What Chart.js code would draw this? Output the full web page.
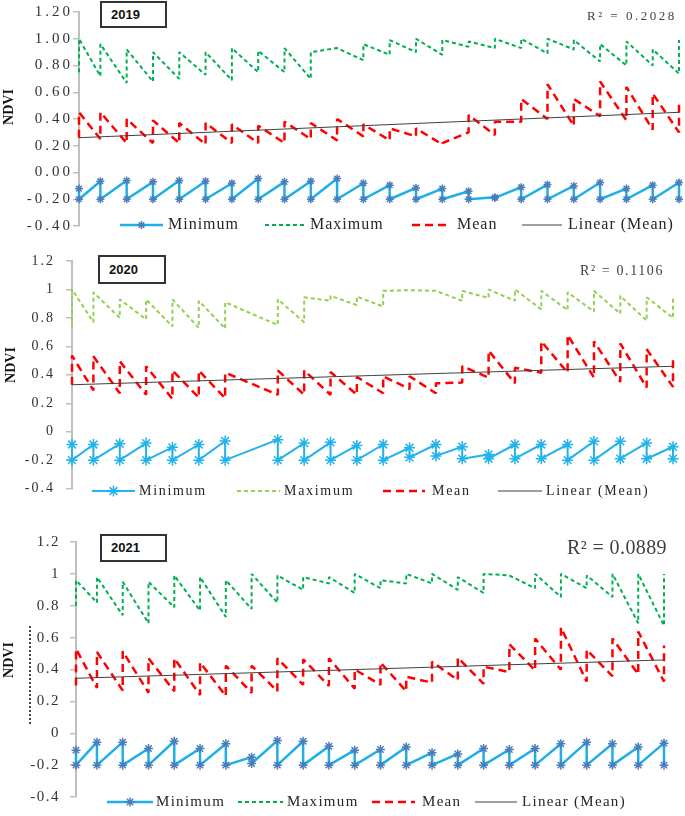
<!DOCTYPE html>
<html lang="en">
<head>
<meta charset="UTF-8">
<title>NDVI 2019-2021</title>
<script src="https://cdn.jsdelivr.net/npm/chart.js@4.4.1/dist/chart.umd.min.js"></script>
<style>
  body { margin: 0; background: #fff; }
  #page { position: relative; width: 685px; height: 816px; overflow: hidden; }
  canvas { position: absolute; left: 0; }
  .year { position: absolute; box-sizing: border-box; border: 2px solid #333; background: #fff;
          font: bold 13px 'Liberation Sans', Arial, sans-serif; color: #111; padding-left: 9px; }
  .r2 { position: absolute; font-family: 'Liberation Serif', serif; color: #404040; white-space: nowrap; }
  .ndvi { position: absolute; width: 50px; height: 18px; line-height: 18px; text-align: center;
          font: bold 14px 'Liberation Serif', serif; color: #111; transform: rotate(-90deg); }
</style>
</head>
<body>
<div id="page">
  <canvas id="c2019" width="685" height="236" style="top:0"></canvas>
  <canvas id="c2020" width="685" height="272" style="top:236px"></canvas>
  <canvas id="c2021" width="685" height="308" style="top:508px"></canvas>

  <div class="year" style="left:100px;top:1px;width:67px;height:27px;line-height:23px">2019</div>
  <div class="year" style="left:98px;top:255px;width:68px;height:29px;line-height:25px">2020</div>
  <div class="year" style="left:100px;top:534px;width:67px;height:28px;line-height:24px">2021</div>

  <div class="r2" style="left:587px;top:8px;font-size:13px;line-height:16px;letter-spacing:2.5px">R² = 0.2028</div>
  <div class="r2" style="left:580px;top:262px;font-size:14px;line-height:18px;letter-spacing:1.6px">R² = 0.1106</div>
  <div class="r2" style="left:567px;top:535px;font-size:20px;line-height:24px;letter-spacing:0.4px">R² = 0.0889</div>

  <div class="ndvi" style="left:-15px;top:98px">NDVI</div>
  <div class="ndvi" style="left:-13px;top:356px">NDVI</div>
  <div class="ndvi" style="left:-15px;top:651px">NDVI</div>
  <div style="position:absolute;left:29px;top:626px;height:98px;border-left:2px dotted #444"></div>
</div>

<script>
  // x positions of the 16-day composites (day of year)
  var days = [0, 13, 29, 45, 61, 77, 93, 109, 125, 141, 157, 173, 189, 205, 221, 237, 253, 269, 285, 301, 317, 333, 349, 365]
  var days2020 = [0, 13, 29, 45, 61, 77, 93, 125, 141, 157, 173, 189, 205, 221, 237, 253, 269, 285, 301, 317, 333, 349, 365]

  // each composite has a value where the line arrives and one where it leaves
  var max2019In = [0.75, 0.72, 0.67, 0.68, 0.70, 0.73, 0.69, 0.75, 0.75, 0.70, 0.93, 0.84, 0.88, 0.90, 0.88, 0.94, 0.93, 0.93, 0.89, 0.92, 0.83, 0.80, 0.80, 0.74]
  var max2019Out = [1.00, 0.96, 0.92, 0.90, 0.90, 0.90, 0.93, 0.91, 0.93, 0.90, 0.93, 0.96, 0.99, 1.00, 0.99, 0.98, 1.00, 1.00, 1.00, 0.99, 0.96, 0.98, 0.92, 0.99]
  var mean2019In = [0.26, 0.25, 0.22, 0.22, 0.22, 0.21, 0.22, 0.22, 0.22, 0.25, 0.24, 0.27, 0.24, 0.27, 0.21, 0.30, 0.28, 0.38, 0.40, 0.35, 0.42, 0.39, 0.32, 0.30]
  var mean2019Out = [0.45, 0.45, 0.40, 0.39, 0.37, 0.37, 0.36, 0.35, 0.38, 0.37, 0.40, 0.36, 0.33, 0.33, 0.22, 0.43, 0.38, 0.55, 0.66, 0.55, 0.68, 0.64, 0.59, 0.54]
  var min2019In = [-0.12, -0.065, -0.06, -0.07, -0.06, -0.065, -0.08, -0.045, -0.07, -0.065, -0.045, -0.08, -0.095, -0.115, -0.12, -0.14, -0.185, -0.11, -0.09, -0.10, -0.075, -0.12, -0.095, -0.075]
  var min2019Out = [-0.20, -0.20, -0.20, -0.20, -0.20, -0.20, -0.20, -0.20, -0.20, -0.20, -0.20, -0.20, -0.20, -0.20, -0.20, -0.20, -0.19, -0.20, -0.20, -0.20, -0.20, -0.20, -0.20, -0.20]
  var trend2019 = [0.26, 0.45]

  var max2020In = [0.73, 0.77, 0.80, 0.79, 0.74, 0.73, 0.725, 0.75, 0.77, 0.92, 0.89, 0.88, 0.995, 0.99, 0.92, 0.94, 0.92, 0.86, 0.855, 0.845, 0.83, 0.78, 0.80]
  var max2020Out = [1.00, 0.98, 0.93, 0.93, 0.93, 0.92, 0.91, 0.93, 0.945, 0.955, 0.95, 0.99, 0.995, 0.99, 0.99, 1.00, 1.00, 0.99, 0.98, 0.99, 0.955, 0.945, 0.955]
  var mean2020In = [0.33, 0.29, 0.27, 0.26, 0.23, 0.24, 0.235, 0.26, 0.26, 0.26, 0.26, 0.27, 0.30, 0.27, 0.345, 0.38, 0.34, 0.415, 0.415, 0.38, 0.35, 0.31, 0.315]
  var mean2020Out = [0.535, 0.53, 0.495, 0.46, 0.43, 0.43, 0.415, 0.43, 0.43, 0.42, 0.385, 0.39, 0.39, 0.34, 0.46, 0.57, 0.45, 0.635, 0.68, 0.635, 0.62, 0.58, 0.52]
  var min2020In = [-0.09, -0.09, -0.085, -0.08, -0.11, -0.09, -0.065, -0.056, -0.08, -0.075, -0.097, -0.09, -0.113, -0.09, -0.106, -0.16, -0.09, -0.09, -0.09, -0.068, -0.068, -0.079, -0.106]
  var min2020Out = [-0.20, -0.20, -0.20, -0.20, -0.20, -0.20, -0.20, -0.20, -0.20, -0.20, -0.20, -0.20, -0.18, -0.17, -0.19, -0.19, -0.19, -0.19, -0.20, -0.20, -0.19, -0.19, -0.19]
  var trend2020 = [0.33, 0.46]

  var max2021In = [0.80, 0.82, 0.74, 0.69, 0.79, 0.77, 0.73, 0.78, 0.82, 0.90, 0.94, 0.88, 0.91, 0.94, 0.94, 0.90, 0.88, 0.99, 0.91, 0.855, 0.91, 0.855, 0.69, 0.675]
  var max2021Out = [0.96, 0.98, 0.95, 0.95, 0.99, 0.98, 0.96, 1.00, 0.99, 0.98, 0.98, 1.00, 0.96, 1.00, 1.00, 0.98, 1.00, 0.99, 1.00, 1.00, 0.99, 1.00, 1.00, 1.00]
  var mean2021In = [0.30, 0.284, 0.268, 0.254, 0.264, 0.24, 0.234, 0.254, 0.264, 0.304, 0.298, 0.28, 0.304, 0.264, 0.318, 0.334, 0.31, 0.384, 0.394, 0.398, 0.324, 0.358, 0.37, 0.324]
  var mean2021Out = [0.53, 0.51, 0.514, 0.47, 0.47, 0.444, 0.424, 0.424, 0.47, 0.464, 0.47, 0.40, 0.444, 0.354, 0.448, 0.474, 0.418, 0.558, 0.594, 0.664, 0.524, 0.594, 0.638, 0.55]
  var min2021In = [-0.106, -0.056, -0.056, -0.096, -0.05, -0.096, -0.066, -0.15, -0.046, -0.05, -0.082, -0.106, -0.102, -0.086, -0.122, -0.13, -0.096, -0.102, -0.096, -0.066, -0.056, -0.066, -0.086, -0.062]
  var min2021Out = [-0.20, -0.20, -0.20, -0.20, -0.20, -0.20, -0.20, -0.19, -0.20, -0.20, -0.20, -0.20, -0.20, -0.20, -0.20, -0.20, -0.20, -0.20, -0.20, -0.20, -0.20, -0.20, -0.20, -0.20]
  var trend2021 = [0.345, 0.46]

  var yTicks = { min: -0.4, max: 1.2, step: 0.2 }

  function sawtooth(xs, arrive, leave) {
    var pts = []
    xs.forEach(function (d, i) {
      pts.push({ x: d, y: arrive[i] })
      pts.push({ x: d, y: leave[i] })
    })
    return pts
  }

  // Chart.js has no letter spacing option, so set it on the context before drawing ticks
  var spacingPlugin = {
    id: 'spacing',
    beforeDraw: function (chart, args, opts) {
      chart.ctx.letterSpacing = (opts.px || 0) + 'px'
    }
  }

  // legend drawn in the plot like the original (inside the bottom of the chart)
  var legendPlugin = {
    id: 'panelLegend',
    afterDraw: function (chart, args, opts) {
      var ctx = chart.ctx
      ctx.save()
      ctx.font = opts.font
      ctx.letterSpacing = opts.spacing + 'px'
      ctx.textBaseline = 'middle'
      opts.items.forEach(function (it, i) {
        var ds = chart.data.datasets[i]
        ctx.save()
        ctx.strokeStyle = ds.borderColor
        ctx.lineWidth = ds.borderWidth
        ctx.setLineDash(ds.borderDash || [])
        ctx.beginPath()
        ctx.moveTo(it.x1, opts.y)
        ctx.lineTo(it.x2, opts.y)
        ctx.stroke()
        ctx.restore()
        if (ds.pointRadius) {
          ctx.save()
          ctx.strokeStyle = ds.pointBorderColor
          ctx.fillStyle = ds.pointBorderColor
          ctx.lineWidth = ds.pointBorderWidth
          Chart.helpers.drawPoint(ctx, { pointStyle: 'star', radius: ds.pointRadius, rotation: 0, borderWidth: ds.pointBorderWidth }, (it.x1 + it.x2) / 2, opts.y)
          ctx.restore()
        }
        ctx.fillStyle = '#262626'
        ctx.fillText(ds.label, it.tx, opts.y)
      })
      ctx.restore()
    }
  }

  function makePanel(p) {
    var last = p.days.length - 1
    new Chart(document.getElementById(p.id), {
      type: 'line',
      data: {
        datasets: [{
          label: 'Minimum',
          data: sawtooth(p.days, p.minIn, p.minOut),
          borderColor: p.minColor,
          borderWidth: p.minWidth,
          pointStyle: 'star',
          pointRadius: p.markerRadius,
          pointBorderColor: p.markerColor,
          pointBackgroundColor: p.markerColor,
          pointBorderWidth: 1.5,
          order: 1
        }, {
          label: 'Maximum',
          data: sawtooth(p.days, p.maxIn, p.maxOut),
          borderColor: p.maxColor,
          borderWidth: 2,
          borderDash: [4, 3],
          pointRadius: 0,
          order: 1
        }, {
          label: 'Mean',
          data: sawtooth(p.days, p.meanIn, p.meanOut),
          borderColor: '#ff0000',
          borderWidth: 2.5,
          borderDash: [8, 5],
          pointRadius: 0,
          order: 1
        }, {
          label: 'Linear (Mean)',
          data: [{ x: p.days[0], y: p.trend[0] }, { x: p.days[last], y: p.trend[1] }],
          borderColor: '#404040',
          borderWidth: 1,
          pointRadius: 0,
          order: 0
        }]
      },
      options: {
        responsive: false,
        animation: false,
        devicePixelRatio: 1,
        layout: { padding: p.padding },
        datasets: { line: { clip: false, borderJoinStyle: 'bevel' } },
        scales: {
          x: { type: 'linear', min: 0, max: 365, display: false },
          y: {
            min: yTicks.min,
            max: yTicks.max,
            afterFit: function (s) { s.width = p.axisX },
            ticks: { stepSize: yTicks.step, padding: p.tickPad, color: '#333', font: p.tickFont, callback: p.fmt },
            grid: { drawOnChartArea: false, tickLength: 6, color: '#bfbfbf', lineWidth: 1.5 },
            border: { color: '#bfbfbf', width: 2 }
          }
        },
        plugins: {
          legend: { display: false },
          tooltip: { enabled: false },
          spacing: { px: p.tickSpacing },
          panelLegend: p.legend
        }
      },
      plugins: [spacingPlugin, legendPlugin]
    })
  }

  var twoDecimals = function (v) { return v.toFixed(2) }
  var oneDecimal = function (v) { return String(+v.toFixed(1)) }

  makePanel({
    id: 'c2019', days: days,
    minIn: min2019In, minOut: min2019Out, maxIn: max2019In, maxOut: max2019Out,
    meanIn: mean2019In, meanOut: mean2019Out, trend: trend2019,
    minColor: '#1eaeea', minWidth: 2.5, markerColor: '#4a7ebb', markerRadius: 4,
    maxColor: '#00b050',
    padding: { left: 0, right: 6, top: 12, bottom: 10 }, axisX: 79,
    tickFont: { family: 'Liberation Serif', size: 15 }, tickSpacing: 3, tickPad: 0, fmt: twoDecimals,
    legend: {
      y: 225, font: "16px 'Liberation Serif'", spacing: 1,
      items: [{ x1: 120, x2: 163, tx: 168 }, { x1: 265, x2: 305, tx: 310 }, { x1: 412, x2: 450, tx: 457 }, { x1: 522, x2: 562, tx: 568 }]
    }
  })

  makePanel({
    id: 'c2020', days: days2020,
    minIn: min2020In, minOut: min2020Out, maxIn: max2020In, maxOut: max2020Out,
    meanIn: mean2020In, meanOut: mean2020Out, trend: trend2020,
    minColor: '#22b3ec', minWidth: 2, markerColor: '#22b3ec', markerRadius: 5.5,
    maxColor: '#92d050',
    padding: { left: 0, right: 12, top: 25, bottom: 11 }, axisX: 72,
    tickFont: { family: 'Liberation Serif', size: 14 }, tickSpacing: 2, tickPad: 11, fmt: oneDecimal,
    legend: {
      y: 255, font: "14px 'Liberation Serif'", spacing: 1.7,
      items: [{ x1: 92, x2: 135, tx: 139 }, { x1: 237, x2: 280, tx: 284 }, { x1: 383, x2: 425, tx: 432 }, { x1: 498, x2: 542, tx: 546 }]
    }
  })

  makePanel({
    id: 'c2021', days: days,
    minIn: min2021In, minOut: min2021Out, maxIn: max2021In, maxOut: max2021Out,
    meanIn: mean2021In, meanOut: mean2021Out, trend: trend2021,
    minColor: '#1eaeea', minWidth: 2.5, markerColor: '#4a7ebb', markerRadius: 4.5,
    maxColor: '#00b050',
    padding: { left: 0, right: 21, top: 34, bottom: 8 }, axisX: 76,
    tickFont: { family: 'Liberation Serif', size: 15 }, tickSpacing: 1.5, tickPad: 10, fmt: oneDecimal,
    legend: {
      y: 294, font: "15px 'Liberation Serif'", spacing: 1.3,
      items: [{ x1: 107, x2: 153, tx: 156 }, { x1: 238, x2: 283, tx: 287 }, { x1: 372, x2: 415, tx: 422 }, { x1: 475, x2: 517, tx: 522 }]
    }
  })
</script>
</body>
</html>
